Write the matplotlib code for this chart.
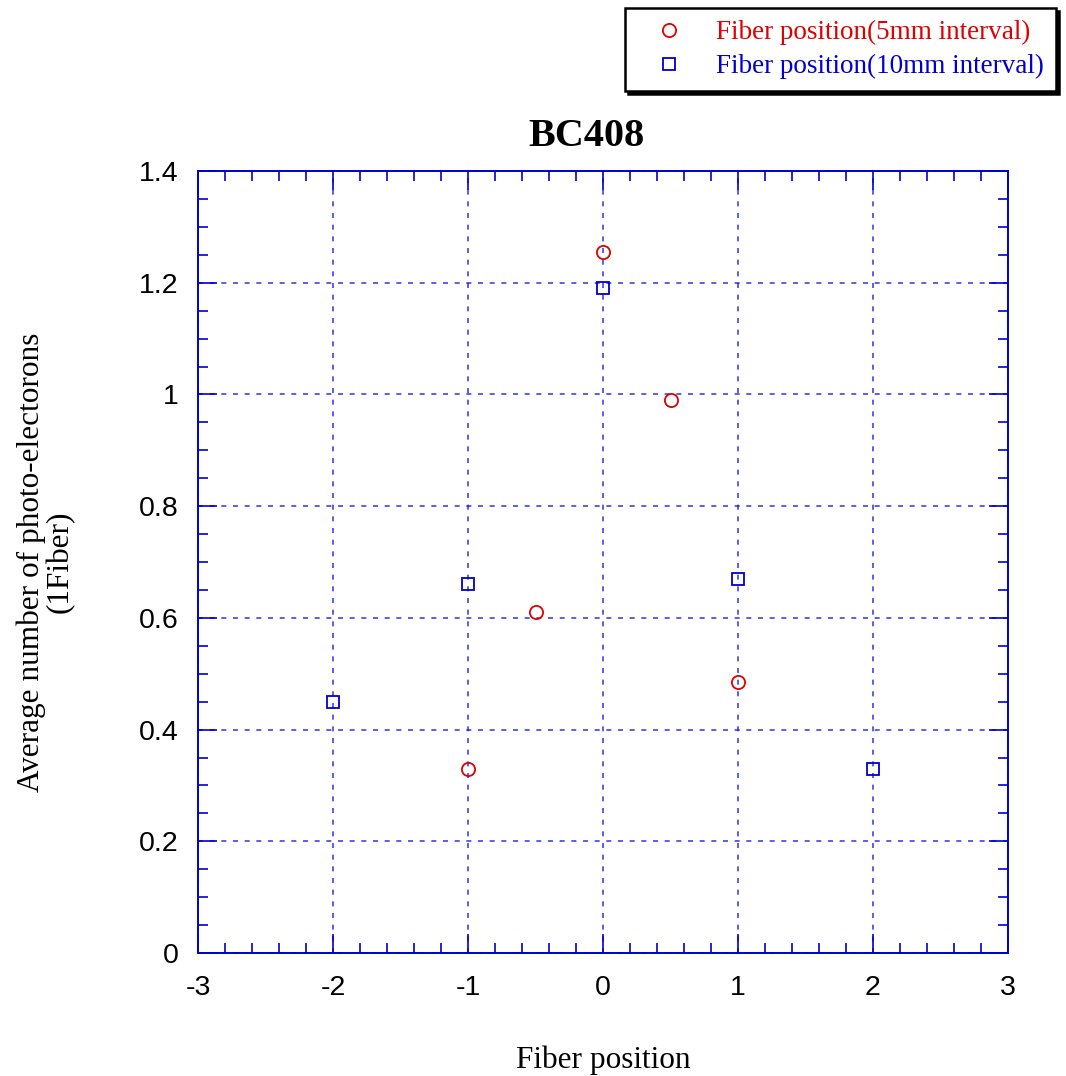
import numpy as np
import matplotlib.pyplot as plt
from matplotlib.ticker import MultipleLocator

# data
x_5mm = [-1, -0.5, 0, 0.5, 1]
y_5mm = [0.33, 0.61, 1.255, 0.99, 0.485]
x_10mm = [-2, -1, 0, 1, 2]
y_10mm = [0.45, 0.66, 1.19, 0.67, 0.33]

label_5mm = "Fiber position(5mm interval)"
label_10mm = "Fiber position(10mm interval)"

plt.rcParams["axes.unicode_minus"] = False
serif = ["Liberation Serif", "DejaVu Serif"]
sans = ["Liberation Sans", "DejaVu Sans"]

fig = plt.figure(figsize=(10.66, 10.76), dpi=100)
ax = fig.add_axes([198/1066, 1 - 953/1076, 810/1066, 782/1076])

ax.plot(x_5mm, y_5mm, linestyle="none", marker="o", markersize=9.5,
        markerfacecolor="none", markeredgecolor="#e00000", markeredgewidth=1.3,
        label=label_5mm, zorder=3)
ax.plot(x_10mm, y_10mm, linestyle="none", marker="s", markersize=9,
        markerfacecolor="none", markeredgecolor="#0000d0", markeredgewidth=1.3,
        label=label_10mm, zorder=3)

ax.set_xlim(-3, 3)
ax.set_ylim(0, 1.4)
ax.xaxis.set_major_locator(MultipleLocator(1))
ax.xaxis.set_minor_locator(MultipleLocator(0.2))
ax.yaxis.set_major_locator(MultipleLocator(0.2))
ax.yaxis.set_minor_locator(MultipleLocator(0.05))
ax.yaxis.set_major_formatter(plt.FuncFormatter(lambda v, p: f"{v:g}"))
ax.xaxis.set_major_formatter(plt.FuncFormatter(lambda v, p: f"{v:g}"))

blue = "#0000d0"
ax.tick_params(which="both", direction="in", top=True, right=True, color=blue, width=1.2)
ax.tick_params(which="major", length=14, labelsize=20.5)
ax.tick_params(axis="y", which="major", pad=14)
ax.tick_params(axis="x", which="major", pad=16)
ax.tick_params(which="minor", length=7)
for lab in ax.get_xticklabels() + ax.get_yticklabels():
    lab.set_family(sans)
for s in ax.spines.values():
    s.set_color(blue)
    s.set_linewidth(1.4)

ax.grid(True, which="major", color="#2020e0", linestyle=(0, (3, 4)), linewidth=1.2, alpha=0.85)

ax.set_title("BC408", family=serif, fontsize=29, fontweight="bold", pad=18, x=0.48)
ax.set_xlabel("Fiber position", family=serif, fontsize=22.5, labelpad=32)
ax.set_ylabel("Average number of photo-electorons\n(1Fiber)", family=serif, fontsize=22.5,
              labelpad=46, linespacing=1.0)

leg = fig.legend(loc="upper right", bbox_to_anchor=(1056/1066, 1 - 8/1076),
                 prop={"family": serif, "size": 19.5}, labelcolor="markeredgecolor",
                 fancybox=False, edgecolor="black", framealpha=1,
                 shadow={"color": "black", "alpha": 1}, handletextpad=0.6,
                 borderpad=0.45, labelspacing=0.32, handlelength=2.3, borderaxespad=0)
leg.get_frame().set_linewidth(1.8)

fig.savefig("out.png", dpi=100)
